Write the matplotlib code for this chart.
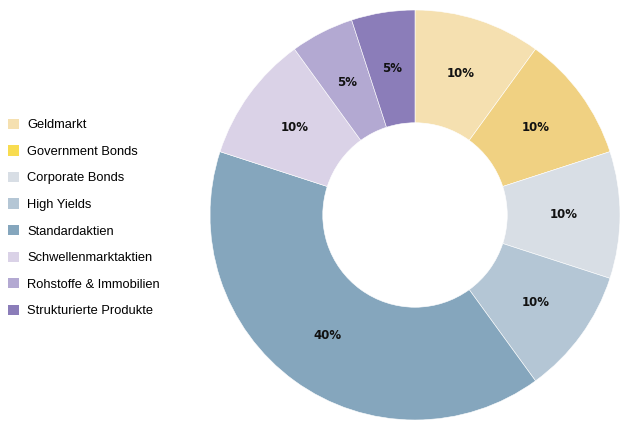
import matplotlib.pyplot as plt
from matplotlib.patches import Patch

# Asset allocation data
categories = ['Geldmarkt', 'Government Bonds', 'Corporate Bonds', 'High Yields',
              'Standardaktien', 'Schwellenmarktaktien', 'Rohstoffe & Immobilien',
              'Strukturierte Produkte']
shares = [10, 10, 10, 10, 40, 10, 5, 5]
pct_labels = ['10%', '10%', '10%', '10%', '40%', '10%', '5%', '5%']

slice_colors = ['#F5E0B0', '#F0D182', '#D8DEE5', '#B4C6D5',
                '#85A6BD', '#DAD2E7', '#B3A9D2', '#8B7DB9']
legend_colors = ['#F5E0B0', '#F8DC50', '#D8DEE5', '#B4C6D5',
                 '#85A6BD', '#DAD2E7', '#B3A9D2', '#8B7DB9']

W, H = 620, 424
fig = plt.figure(figsize=(W / 100, H / 100), dpi=100)

# pie centre and radius in pixels
cx, cy, r = 415, 215, 205
ax = fig.add_axes([(cx - r) / W, (H - cy - r) / H, 2 * r / W, 2 * r / H])

hole = 0.45
wedges, texts = ax.pie(shares, colors=slice_colors, startangle=90, counterclock=False,
                       radius=1, labels=pct_labels, labeldistance=(1 + hole) / 2,
                       wedgeprops=dict(width=1 - hole, edgecolor='white', linewidth=0.4),
                       textprops=dict(fontsize=8.5, fontweight='bold', color='#111111'))
for t in texts:
    t.set_ha('center')
    t.set_va('center')
ax.set_xlim(-1, 1)
ax.set_ylim(-1, 1)
ax.set_aspect('equal')
ax.axis('off')

handles = [Patch(facecolor=c, edgecolor='none') for c in legend_colors]
fig.legend(handles, categories, loc='center left', bbox_to_anchor=(8 / W, (H - 218) / H),
           frameon=False, prop={'family': 'Liberation Sans', 'size': 9.3},
           handlelength=0.85, handleheight=0.85, handletextpad=0.62,
           labelspacing=1.08, borderaxespad=0.0, borderpad=0.0)

plt.savefig('out.png', dpi=100)
